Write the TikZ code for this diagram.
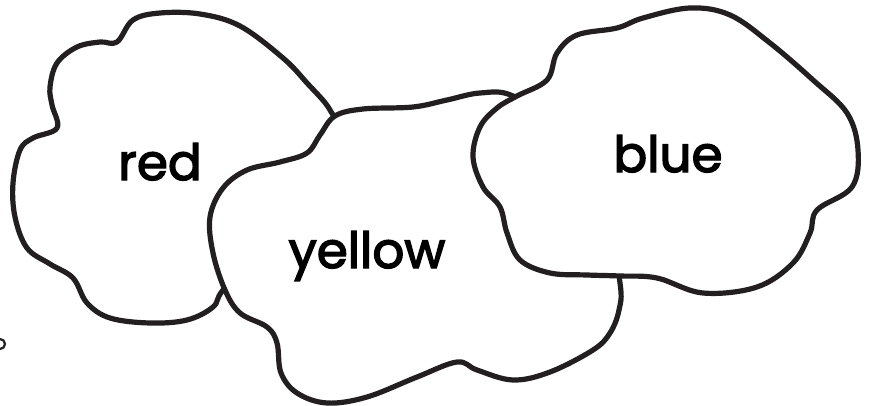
\documentclass[tikz,border=0pt]{standalone}
\usepackage{fontspec}
\setmainfont{Poppins}
\newfontfamily\cloudfont{Poppins}[FakeBold=2.8]
\usetikzlibrary{positioning}
\definecolor{InkBlack}{HTML}{231F20}

\begin{document}
\begin{tikzpicture}[x=1pt,y=-1pt,
    blob/.style={draw=InkBlack,fill=white,line width=5.2pt,line join=round},
    lbl/.style={anchor=base,font=\cloudfont\fontsize{50}{50}\selectfont,text=black,inner sep=0pt}]
    \useasboundingbox (0,0) rectangle (874,406);
    % little circle cut by the left edge
    \draw[InkBlack,line width=2.2pt] (0,344) circle[radius=5];
    % red cloud
    \draw[blob] plot[smooth cycle,tension=.6] coordinates {
      (117,42) (133,20) (160,13) (200,14) (240,26) (283,58) (307,83) (330,110)
      (335,135) (300,200) (260,250) (223,290) (213,307) (187,320) (150,323)
      (110,318) (87,303) (73,278) (50,264) (27,248) (15,217) (13,183) (20,150)
      (33,138) (57,128) (52,105) (50,87) (57,63) (77,47) (100,42)};
    % yellow cloud
    \draw[blob] plot[smooth cycle,tension=.6] coordinates {
      (335,116) (363,109) (413,107) (447,100) (480,93) (513,96) (560,130)
      (605,210) (620,283) (619,310) (610,333) (593,350) (550,372) (513,380)
      (477,370) (457,362) (417,377) (367,397) (327,403) (297,393) (281,373)
      (277,343) (267,327) (240,313) (225,290) (213,253) (210,217) (223,188)
      (247,170) (280,162) (307,153) (320,135)};
    % blue cloud
    \draw[blob] plot[smooth cycle,tension=.6] coordinates {
      (517,96) (547,80) (557,53) (577,35) (617,28) (643,18) (690,8) (730,15)
      (770,43) (813,80) (847,113) (858,150) (852,187) (817,210) (810,233)
      (793,263) (757,287) (703,293) (657,278) (620,276) (587,275) (550,273)
      (520,260) (507,233) (500,207) (483,187) (473,157) (480,127) (497,108)};
    \node[lbl] (red) at (160,180) {red};
    \node[lbl] (yellow) at (367,268) {yellow};
    \node[lbl] (blue) at (668,172) {blue};
\end{tikzpicture}
\end{document}
